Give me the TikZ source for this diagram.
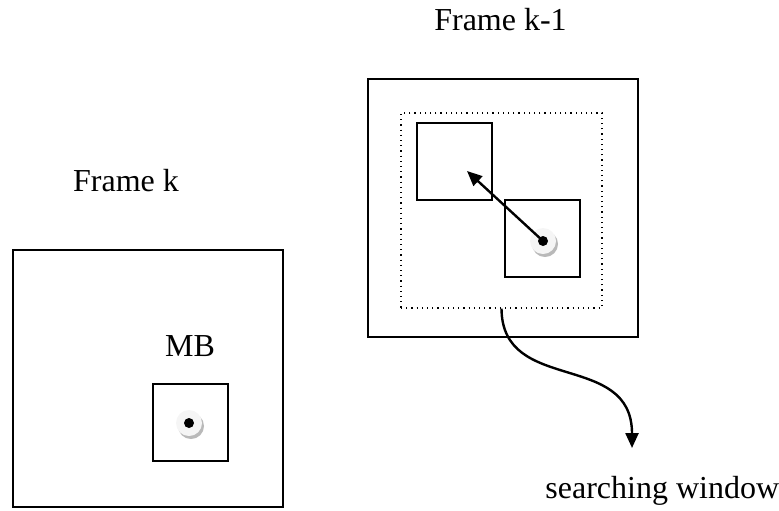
\documentclass[tikz,border=0pt]{standalone}
\usepackage{fontspec}
\setmainfont{Liberation Serif}
\usetikzlibrary{arrows.meta, positioning, calc}

\tikzset{
	frm/.style={draw, line width=1pt, minimum width=135pt, minimum height=129pt, inner sep=0pt},
	mb/.style={draw, line width=1pt, minimum width=37.5pt, minimum height=38.5pt, inner sep=0pt},
	win/.style={draw, dotted, line width=0.6pt, minimum width=100.5pt, minimum height=97.5pt, inner sep=0pt},
	lbl/.style={font=\fontsize{16}{19}\selectfont, inner sep=0pt},
	tip/.style={-{Triangle[length=7.5pt, width=6.5pt]}}
}

% pixel marker of a macroblock
\newcommand{\mbpixel}[2]{%
	\fill[gray!55] ($(#2)+(2,3)$) circle (6.5pt);
	\fill[gray!8] (#2) circle (6.5pt);
	\node[circle, fill=black, inner sep=0pt, minimum size=5pt] (#1) at (#2) {};
}

\begin{document}
\begin{tikzpicture}[x=0.5pt, y=-0.5pt]
	\useasboundingbox (0,0) rectangle (779,510);
	% frame k
	\node[frm, minimum height=128.5pt] (fk) at (148,378.5) {};
	\node[mb] (blk) at (190.5,422.5) {};
	\mbpixel{pk}{189,423}
	\node[lbl, anchor=base] (tfk) at (126,191) {Frame k};
	\node[lbl, anchor=base] (tmb) at (190,356) {MB};
	% frame k-1
	\node[frm] (fk1) at (503,208) {};
	\node[win] (sw) at (501.5,210.5) {};
	\node[mb] (ref) at (454.5,161.5) {};
	\node[mb] (cur) at (542.5,238.5) {};
	\mbpixel{pk1}{543,241}
	\node[lbl, anchor=base] (tfk1) at (500.5,30) {Frame k-1};
	\node[lbl, anchor=base west] (tsw) at (545,498) {searching window};
	\coordinate (mv) at (467,171);
	\coordinate (swend) at (632,448);
	\draw[tip, line width=1.2pt] (pk1.center) -- (mv);
	\draw[tip, line width=1.2pt] (sw.south) .. controls (502,395) and (632,350) .. (swend);
\end{tikzpicture}
\end{document}
